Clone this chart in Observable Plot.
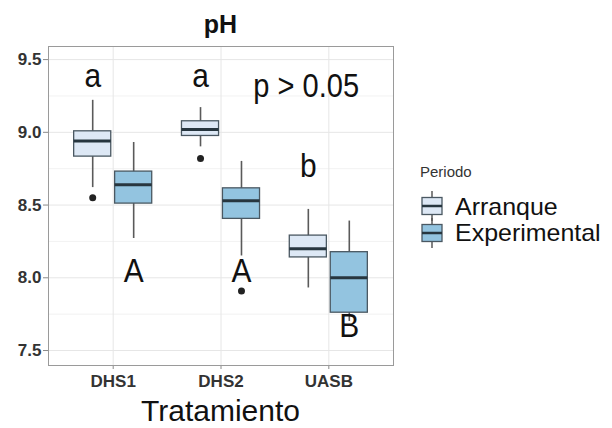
<!DOCTYPE html>
<html>
<head>
<meta charset="utf-8">
<script src="https://cdn.jsdelivr.net/npm/d3@7"></script>
<script src="https://cdn.jsdelivr.net/npm/@observablehq/plot@0.6"></script>
<style>
  html, body { margin: 0; padding: 0; background: #fff; }
  #wrap { position: relative; width: 612px; height: 428px; overflow: hidden; font-family: "Liberation Sans", Arial, sans-serif; }
  #wrap svg.plot { position: absolute; left: 0; top: 0; }
  .lbl { position: absolute; white-space: nowrap; line-height: 1; color: #111; }
  g[aria-label="y-axis tick"] path, g[aria-label="x-axis tick"] path { stroke: #8a8a8a; }
  g[aria-label="y-axis tick label"] text, g[aria-label="x-axis tick label"] text { fill: #333; font-weight: bold; }
</style>
</head>
<body>
<div id="wrap"></div>
<script>
// ---- data ----
const categories = ["DHS1", "DHS2", "UASB"];
const periods = ["Arranque", "Experimental"];
const periodFills = ["#dde8f5", "#93c4e0"];
const yTicks = [7.5, 8.0, 8.5, 9.0, 9.5];
const yMinorTicks = [7.75, 8.25, 8.75, 9.25];

// box summaries (one entry per box)
const boxCategory = ["DHS1", "DHS1", "DHS2", "DHS2", "UASB", "UASB"];
const boxPeriod = ["Arranque", "Experimental", "Arranque", "Experimental", "Arranque", "Experimental"];
const whiskerLow = [8.62, 8.27, 8.90, 8.15, 7.93, 7.70];
const q1 = [8.833, 8.51, 8.975, 8.405, 8.14, 7.76];
const median = [8.94, 8.64, 9.02, 8.53, 8.20, 8.00];
const q3 = [9.007, 8.73, 9.076, 8.615, 8.29, 8.176];
const whiskerHigh = [9.22, 8.93, 9.17, 8.80, 8.47, 8.39];

// outliers
const outlierCategory = ["DHS1", "DHS2", "DHS2"];
const outlierPeriod = ["Arranque", "Arranque", "Experimental"];
const outlierValue = [8.55, 8.82, 7.91];

// significance letters
const letterText = ["a", "A", "a", "A", "b", "B"];
const letterCategory = ["DHS1", "DHS1", "DHS2", "DHS2", "UASB", "UASB"];
const letterPeriod = ["Arranque", "Experimental", "Arranque", "Experimental", "Arranque", "Experimental"];
const letterValue = [9.31, 7.97, 9.31, 7.97, 8.69, 7.59];

// p-value annotation
const pText = ["p > 0.05"];
const pCategoryPos = [2.79];
const pValuePos = [9.24];

// ---- helpers ----
const dodge = 0.19, halfWidth = 0.172;
const xpos = (c, p) => categories.indexOf(c) + 1 + (p === periods[0] ? -dodge : dodge);

const boxes = boxCategory.map((c, i) => ({
  c, p: boxPeriod[i], x: xpos(c, boxPeriod[i]),
  lo: whiskerLow[i], q1: q1[i], med: median[i], q3: q3[i], hi: whiskerHigh[i]
}));
const outliers = outlierCategory.map((c, i) => ({ x: xpos(c, outlierPeriod[i]), y: outlierValue[i] }));
const letters = letterText.map((t, i) => ({ t, x: xpos(letterCategory[i], letterPeriod[i]), y: letterValue[i] }));
const pAnn = pText.map((t, i) => ({ t, x: pCategoryPos[i], y: pValuePos[i] }));

const plot = Plot.plot({
  width: 612,
  height: 428,
  marginLeft: 48,
  marginRight: 219,
  marginTop: 46,
  marginBottom: 63,
  style: { fontFamily: "Liberation Sans, Arial, sans-serif", background: "transparent", overflow: "visible" },
  x: { type: "linear", domain: [0.4, 3.6] },
  y: { domain: [7.397, 9.59] },
  color: { domain: periods, range: periodFills },
  marks: [
    Plot.gridY(yMinorTicks, { stroke: "#f2f2f2", strokeOpacity: 1 }),
    Plot.gridY(yTicks, { stroke: "#e6e6e6", strokeOpacity: 1 }),
    Plot.gridX([1, 2, 3], { stroke: "#e6e6e6", strokeOpacity: 1 }),
    Plot.axisY({ ticks: yTicks, tickFormat: d => d.toFixed(1), tickSize: 5, tickPadding: 2, fontSize: 17, label: null }),
    Plot.axisX({ ticks: [1, 2, 3], tickFormat: d => categories[d - 1], tickSize: 4, tickPadding: 5, fontSize: 17, label: null }),
    Plot.ruleX(boxes, { x: "x", y1: "lo", y2: "hi", stroke: "#5a5a5a", strokeWidth: 1.6 }),
    Plot.rect(boxes, { x1: d => d.x - halfWidth, x2: d => d.x + halfWidth, y1: "q1", y2: "q3", fill: d => d.p, stroke: "#4a5862", strokeWidth: 1.3 }),
    Plot.ruleY(boxes, { y: "med", x1: d => d.x - halfWidth, x2: d => d.x + halfWidth, stroke: "#27363f", strokeWidth: 3 }),
    Plot.dot(outliers, { x: "x", y: "y", r: 3.5, fill: "#222", stroke: null }),
    Plot.text(letters, { x: "x", y: "y", text: "t", fontSize: 34, fill: "#111", className: "narrow" }),
    Plot.text(pAnn, { x: "x", y: "y", text: "t", fontSize: 33, fill: "#111", className: "narrow" }),
    Plot.frame({ stroke: "#9a9a9a" })
  ]
});
plot.classList.add("plot");
const wrap = document.getElementById("wrap");
wrap.appendChild(plot);

// horizontally condense the annotation letters (the reference text is narrow)
plot.querySelectorAll("text").forEach(t => {
  const g = t.closest("g");
  const isNarrow = (g && g.getAttribute("class") && g.getAttribute("class").includes("narrow")) || (t.getAttribute("class") || "").includes("narrow");
  if (!isNarrow) return;
  let tr = t.getAttribute("transform") || "";
  if (t.hasAttribute("x") || t.hasAttribute("y")) {
    const x = +t.getAttribute("x") || 0, y = +t.getAttribute("y") || 0;
    t.removeAttribute("x"); t.removeAttribute("y");
    tr = `translate(${x},${y}) ` + tr;
  }
  t.setAttribute("transform", tr + " scale(0.88,1)");
});

function addLabel(text, styles) {
  const d = document.createElement("div");
  d.className = "lbl";
  d.textContent = text;
  Object.assign(d.style, styles);
  wrap.appendChild(d);
  return d;
}
// title and x-axis title
addLabel("pH", { left: "48px", width: "345px", textAlign: "center", top: "12px", fontSize: "25px", fontWeight: "bold" });
addLabel("Tratamiento", { left: "48px", width: "345px", textAlign: "center", top: "396px", fontSize: "30px" });

// legend
addLabel("Periodo", { left: "420px", top: "164px", fontSize: "15px", color: "#333" });
const keyTops = [191, 218];
const textTops = [195, 221];
periods.forEach((p, i) => {
  const ns = "http://www.w3.org/2000/svg";
  const svg = document.createElementNS(ns, "svg");
  svg.setAttribute("width", 24); svg.setAttribute("height", 30);
  svg.style.position = "absolute";
  svg.style.left = "420px";
  svg.style.top = keyTops[i] + "px";
  svg.innerHTML =
    `<line x1="12" x2="12" y1="0" y2="30" stroke="#5a5a5a" stroke-width="1.5"/>` +
    `<rect x="2" y="6.5" width="20" height="17" fill="${periodFills[i]}" stroke="#4a5862" stroke-width="1.3"/>` +
    `<line x1="2" x2="22" y1="15" y2="15" stroke="#27363f" stroke-width="2.5"/>`;
  wrap.appendChild(svg);
  addLabel(p, { left: "455px", top: textTops[i] + "px", fontSize: "24px", transform: "scaleX(1.04)", transformOrigin: "left center" });
});
</script>
</body>
</html>
